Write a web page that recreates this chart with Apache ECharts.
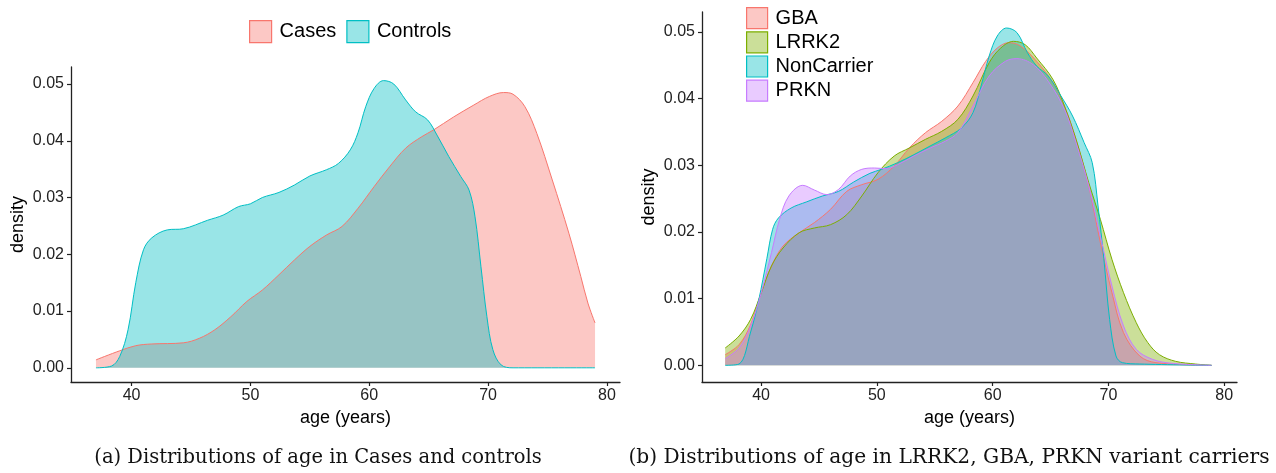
<!DOCTYPE html>
<html lang="en">
<head>
    <meta charset="UTF-8">
    <title>Age distributions</title>
    <script src="https://cdn.jsdelivr.net/npm/echarts@6/dist/echarts.min.js"></script>
    <style>
        html, body {margin: 0; padding: 0; background: #fff;}
        #main {width: 1276px; height: 473px;}
    </style>
</head>
<body>
<div id="main"></div>
<script type="text/javascript">

    // (a) cases vs controls
    var casesAge = [37.0, 39.0, 40.35, 41.7, 44.35, 45.7, 47.0, 48.35, 49.7, 51.0, 52.4, 53.7, 55.0, 56.4, 57.7, 59.05,
        60.4, 61.7, 63.06, 64.4, 65.4, 67.1, 68.8, 70.1, 71.3, 72.1, 73.1, 74.1, 75.4, 76.8, 77.8, 78.4, 79.0];
    var casesDensity = [0.0014, 0.003, 0.0039, 0.0042, 0.0044, 0.0052, 0.0067, 0.009, 0.0117, 0.0137, 0.0164, 0.019,
        0.0214, 0.0234, 0.0249, 0.0281, 0.0319, 0.0354, 0.0387, 0.0407, 0.0419, 0.0442, 0.0463, 0.0478, 0.0485, 0.0482,
        0.046, 0.0413, 0.0331, 0.0237, 0.0161, 0.0114, 0.0079];

    var controlsAge = [37.0, 38.3, 39.0, 39.7, 40.35, 41.0, 41.7, 43.0, 44.35, 46.4, 47.7, 49.0, 50.0, 51.0, 52.4, 53.7,
        55.0, 56.4, 57.4, 58.4, 59.05, 59.7, 60.4, 61.2, 62.06, 63.06, 63.9, 64.9, 65.7, 66.7, 67.7, 68.4, 68.9, 69.4,
        69.9, 70.4, 71.1, 72.1, 79.0];
    var controlsDensity = [0, 0.0003, 0.002, 0.0067, 0.015, 0.0208, 0.0229, 0.0243, 0.0245, 0.026, 0.0269, 0.0284,
        0.0289, 0.030, 0.0309, 0.0322, 0.0338, 0.0349, 0.036, 0.0384, 0.0414, 0.046, 0.0492, 0.0506, 0.050, 0.0472,
        0.0451, 0.0437, 0.041, 0.0372, 0.0337, 0.0313, 0.0266, 0.0178, 0.009, 0.0032, 0.0005, 0, 0];

    // (b) variant carriers
    var gbaAge = [36.9, 38.1, 39.1, 40.0, 40.9, 41.9, 43.3, 44.6, 46.0, 47.4, 48.7, 50.1, 51.5, 52.8, 54.2, 55.6, 57.0,
        58.3, 59.4, 60.4, 61.4, 62.4, 63.8, 65.2, 66.2, 67.2, 68.3, 69.3, 70.3, 71.3, 72.7, 74.1, 78.9];
    var gbaDensity = [0.0016, 0.0031, 0.0061, 0.0108, 0.0149, 0.0179, 0.0199, 0.0214, 0.0234, 0.0261, 0.0271, 0.0279,
        0.0299, 0.0326, 0.0349, 0.0366, 0.0389, 0.0424, 0.0456, 0.0476, 0.0484, 0.0479, 0.0456, 0.0424, 0.0389, 0.0339,
        0.0269, 0.0184, 0.0109, 0.0049, 0.0014, 0.0004, 0];

    var lrrk2Age = [36.9, 38.1, 39.1, 40.0, 40.9, 41.9, 43.3, 44.6, 46.0, 47.4, 48.7, 50.1, 51.5, 52.8, 54.2, 55.6, 57.0,
        58.3, 59.7, 60.7, 61.8, 62.8, 63.8, 65.2, 66.2, 67.2, 68.3, 69.3, 70.3, 71.3, 72.4, 73.4, 74.4, 75.8, 77.5, 78.9];
    var lrrk2Density = [0.0026, 0.0044, 0.0069, 0.0108, 0.0149, 0.0176, 0.0199, 0.0206, 0.0211, 0.0226, 0.0254, 0.0289,
        0.0314, 0.0326, 0.0339, 0.0351, 0.0369, 0.0404, 0.0454, 0.0476, 0.0486, 0.0481, 0.0461, 0.0429, 0.0389, 0.0339,
        0.0274, 0.0219, 0.0159, 0.0109, 0.0064, 0.0034, 0.0016, 0.0006, 0.0002, 0];

    var nonCarrierAge = [36.9, 38.1, 39.1, 39.8, 40.5, 41.0, 41.5, 42.6, 43.9, 45.3, 46.7, 48.0, 49.4, 50.4, 51.8, 53.2,
        54.6, 55.9, 57.3, 58.3, 59.0, 59.7, 60.4, 61.2, 62.1, 63.0, 63.8, 64.8, 65.9, 66.9, 67.9, 68.6, 69.1, 69.6, 70.1,
        70.65, 71.2, 72.7, 78.9];
    var nonCarrierDensity = [0, 0.0002, 0.005, 0.0098, 0.016, 0.0204, 0.0221, 0.0236, 0.0245, 0.0254, 0.0261, 0.0275,
        0.0288, 0.0294, 0.0304, 0.0316, 0.0329, 0.0341, 0.0356, 0.0379, 0.0419, 0.0464, 0.0494, 0.0506, 0.0499, 0.0469,
        0.0449, 0.0434, 0.0404, 0.0374, 0.0334, 0.0304, 0.0239, 0.016, 0.0069, 0.0014, 0.0004, 0.0002, 0];

    var prknAge = [36.9, 38.1, 39.1, 40.0, 40.9, 41.6, 42.4, 43.6, 44.6, 45.7, 46.7, 47.7, 48.7, 49.8, 50.8, 51.8, 53.2,
        54.6, 55.9, 57.0, 58.3, 59.7, 61.1, 62.1, 63.5, 64.8, 66.2, 67.2, 68.3, 69.3, 70.3, 71.3, 72.4, 73.8, 75.5, 78.9];
    var prknDensity = [0.001, 0.0026, 0.0059, 0.0108, 0.0169, 0.0219, 0.0254, 0.027, 0.0263, 0.0256, 0.0264, 0.0284,
        0.0294, 0.0296, 0.0295, 0.0301, 0.0314, 0.0326, 0.0336, 0.0349, 0.0389, 0.0434, 0.0456, 0.046, 0.0451, 0.0426,
        0.0384, 0.0334, 0.0269, 0.0194, 0.0119, 0.0059, 0.0024, 0.0009, 0.0003, 0];

    var xTicks = [40, 50, 60, 70, 80];
    var yTicks = [0, 0.01, 0.02, 0.03, 0.04, 0.05];

    function zip(xs, ys) {
        return xs.map(function (x, i) {
            return [x, ys[i]];
        });
    }

    // ggplot-ish density series: thin upper line + 40% fill
    function density(name, color, xs, ys, idx) {
        return {
            name: name,
            type: 'line',
            xAxisIndex: idx,
            yAxisIndex: idx,
            data: zip(xs, ys),
            smooth: 0.35,
            symbol: 'none',
            lineStyle: {color: color, width: 1},
            itemStyle: {color: color},
            areaStyle: {color: color, opacity: 0.4},
            emphasis: {disabled: true},
            silent: true
        };
    }

    function legendItem(name, color) {
        return {
            name: name,
            icon: 'rect',
            itemStyle: {color: echarts.color.modifyAlpha(color, 0.4), borderColor: color, borderWidth: 1.2}
        };
    }

    var axisCommon = {
        axisLine: {onZero: false, lineStyle: {color: '#222', width: 1.3}},
        axisTick: {length: 4, lineStyle: {color: '#222', width: 1.2}},
        splitLine: {show: false},
        nameTextStyle: {color: '#000', fontSize: 18, fontFamily: 'Liberation Sans'}
    };

    function xAxis(idx) {
        return Object.assign({}, axisCommon, {
            type: 'value',
            gridIndex: idx,
            min: 34.9,
            max: 81.1,
            name: 'age (years)',
            nameLocation: 'middle',
            nameGap: 22,
            axisTick: Object.assign({}, axisCommon.axisTick, {customValues: xTicks}),
            axisLabel: {customValues: xTicks, color: '#222', fontSize: 16, fontFamily: 'Liberation Sans', margin: 6}
        });
    }

    function yAxis(idx) {
        return Object.assign({}, axisCommon, {
            type: 'value',
            gridIndex: idx,
            min: -0.0025,
            max: 0.053,
            name: 'density',
            nameLocation: 'middle',
            nameGap: 44,
            axisTick: Object.assign({}, axisCommon.axisTick, {customValues: yTicks}),
            axisLabel: {
                customValues: yTicks, color: '#222', fontSize: 16, fontFamily: 'Liberation Sans', margin: 7,
                formatter: function (v) {
                    return v.toFixed(2);
                }
            }
        });
    }

    var captionFont = {fontFamily: 'DejaVu Serif', fill: '#111', align: 'center', verticalAlign: 'middle'};

    var myChart = echarts.init(document.getElementById('main'), null, {renderer: 'canvas'});
    var option = {
        animation: false,
        backgroundColor: '#fff',
        grid: [
            {left: 71, top: 67, width: 549, height: 315, outerBoundsMode: 'none'},
            {left: 702, top: 12, width: 535, height: 370, outerBoundsMode: 'none'}
        ],
        xAxis: [xAxis(0), xAxis(1)],
        yAxis: [yAxis(0), yAxis(1)],
        legend: [
            {
                left: 249, top: 20, orient: 'horizontal', padding: 0,
                itemWidth: 22, itemHeight: 22, itemGap: 10,
                textStyle: {fontSize: 20, fontFamily: 'Liberation Sans', color: '#000', padding: [0, 0, 0, 3]},
                data: [legendItem('Cases', '#F8766D'), legendItem('Controls', '#00BFC4')],
                selectedMode: false
            },
            {
                left: 746, top: 7, orient: 'vertical', padding: 0,
                itemWidth: 21, itemHeight: 21, itemGap: 2,
                textStyle: {fontSize: 20, fontFamily: 'Liberation Sans', color: '#000', padding: [0, 0, 0, 3]},
                data: [legendItem('GBA', '#F8766D'), legendItem('LRRK2', '#7CAE00'),
                    legendItem('NonCarrier', '#00BFC4'), legendItem('PRKN', '#C77CFF')],
                selectedMode: false
            }
        ],
        graphic: [
            {
                type: 'text', x: 318, y: 458,
                style: Object.assign({text: '(a) Distributions of age in Cases and controls', fontSize: 19.5}, captionFont)
            },
            {
                type: 'text', x: 949, y: 458,
                style: Object.assign({text: '(b) Distributions of age in LRRK2, GBA, PRKN variant carriers', fontSize: 20.2}, captionFont)
            }
        ],
        series: [
            density('Cases', '#F8766D', casesAge, casesDensity, 0),
            density('Controls', '#00BFC4', controlsAge, controlsDensity, 0),
            density('GBA', '#F8766D', gbaAge, gbaDensity, 1),
            density('LRRK2', '#7CAE00', lrrk2Age, lrrk2Density, 1),
            density('NonCarrier', '#00BFC4', nonCarrierAge, nonCarrierDensity, 1),
            density('PRKN', '#C77CFF', prknAge, prknDensity, 1)
        ]
    };

    myChart.setOption(option);
</script>
</body>
</html>
